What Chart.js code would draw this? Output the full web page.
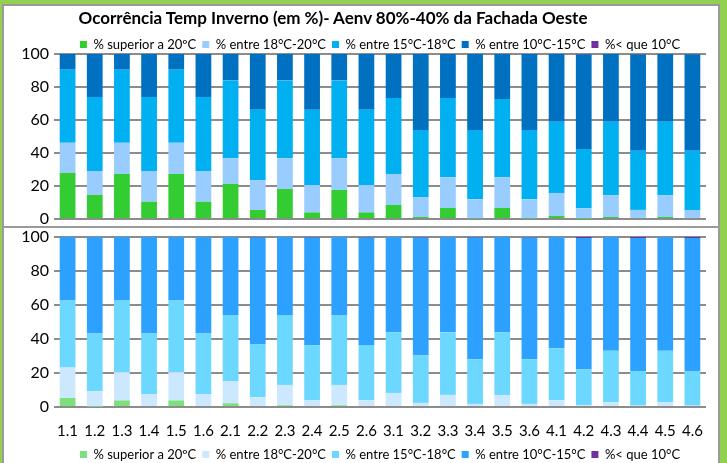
<!DOCTYPE html>
<html>
<head>
<meta charset="utf-8">
<script src="https://cdn.jsdelivr.net/npm/chart.js@4"></script>
<style>
  body { margin: 0; }
  #frame { position: relative; width: 727px; height: 463px; background: #92D050; overflow: hidden; font-family: Lato, sans-serif; }
  #inner { position: absolute; left: 2px; top: 4px; width: 718px; height: 470px; border: 2px solid #9a9a9a; box-sizing: border-box; background: #fff; }
  #sep { position: absolute; left: 2px; top: 226px; width: 716px; height: 2px; background: #9a9a9a; }
  #title { position: absolute; left: 0; top: 8px; width: 666px; text-align: center; font-weight: bold; font-size: 17px; line-height: 20px; color: #000; }
  .box { position: absolute; left: 4px; width: 712px; }
  #topBox { top: 6px; height: 220px; }
  #botBox { top: 229px; height: 240px; }
</style>
</head>
<body>
<div id="frame">
  <div id="inner"></div>
  <div id="sep"></div>
  <div class="box" id="topBox"><canvas id="topChart"></canvas></div>
  <div class="box" id="botBox"><canvas id="botChart"></canvas></div>
  <div id="title">Ocorrência Temp Inverno (em %)- Aenv 80%-40% da Fachada Oeste</div>
</div>
<script>
const categories = ['1.1','1.2','1.3','1.4','1.5','1.6','2.1','2.2','2.3','2.4','2.5','2.6',
  '3.1','3.2','3.3','3.4','3.5','3.6','4.1','4.2','4.3','4.4','4.5','4.6'];
const seriesNames = ['% superior a 20ºC', '% entre 18°C-20°C', '% entre 15°C-18°C', '% entre 10°C-15°C', '%< que 10°C'];
const yTicks = [0, 20, 40, 60, 80, 100];

// upper panel
const topAbove20 = [28, 14.6, 27.3, 10.5, 27.3, 10.5, 21.3, 5.5, 18.2, 4, 17.6, 4, 8.5, 1.2, 6.7, 0.4, 6.7, 0.4, 1.8, 0.2, 1.2, 0, 1.2, 0];
const top18to20 = [18.2, 14.5, 18.9, 18.6, 18.9, 18.6, 15.5, 18, 18.6, 16.6, 19.2, 16.6, 18.8, 12, 18.6, 11.5, 18.6, 11.5, 14, 6.3, 13.2, 5.5, 13.2, 5.5];
const top15to18 = [44.3, 44.8, 44.3, 44.8, 44.3, 44.8, 47.2, 42.7, 47.2, 45.6, 47.2, 45.6, 46, 40.8, 48, 42.1, 47.4, 42.1, 43.1, 36, 44.5, 35.8, 44.5, 35.8];
const top10to15 = [9.5, 26.1, 9.5, 26.1, 9.5, 26.1, 16, 33.8, 16, 33.8, 16, 33.8, 26.7, 46, 26.7, 46, 27.3, 46, 41.1, 57.2, 41.1, 58.4, 41.1, 58.4];
const topBelow10 = [0, 0, 0, 0, 0, 0, 0, 0, 0, 0, 0, 0, 0, 0, 0, 0, 0, 0, 0, 0.3, 0, 0.3, 0, 0.3];

// lower panel
const botAbove20 = [5.3, 0.4, 3.9, 0, 3.9, 0, 2.2, 0, 1, 0, 1, 0, 0, 0, 0, 0, 0, 0, 0, 0, 0, 0, 0, 0];
const bot18to20 = [17.9, 8.9, 16.6, 7.5, 16.6, 7.5, 13, 5.7, 12, 3.9, 12, 3.9, 8.3, 2.4, 7.1, 1.8, 7.1, 1.8, 3.9, 1.2, 2.8, 0.8, 2.8, 0.8];
const bot15to18 = [39.4, 34, 42.1, 35.8, 42.1, 35.8, 38.9, 31.1, 41.1, 32.5, 41.1, 32.5, 35.6, 28.1, 36.8, 26.3, 36.8, 26.3, 30.7, 21, 30.3, 20.3, 30.3, 20.3];
const bot10to15 = [37.4, 56.7, 37.4, 56.7, 37.4, 56.7, 45.9, 62.9, 45.9, 63.3, 45.9, 63.3, 56.1, 69.2, 56.1, 71.6, 56.1, 71.6, 65.4, 77.2, 66.9, 78.3, 66.9, 78.3];
const botBelow10 = [0, 0, 0, 0, 0, 0, 0, 0.3, 0, 0.3, 0, 0.3, 0, 0.3, 0, 0.3, 0, 0.3, 0, 0.6, 0, 0.6, 0, 0.6];

const topColors = ['#33CC33', '#99CCFF', '#00B0F0', '#0070C0', '#7030A0'];
const botColors = ['#7FDF7F', '#CCE8FF', '#6DD8FF', '#2DA1FF', '#7030A0'];

Chart.defaults.font.family = 'Lato, sans-serif';
Chart.defaults.color = '#000';
Chart.defaults.animation = false;

// legend box is taller than the excel one, trim it a bit
const trimLegend = {
  id: 'trimLegend',
  beforeLayout(chart) {
    const lg = chart.legend;
    if (lg && !lg._trimmed) {
      const fit = lg.fit;
      lg.fit = function () { fit.call(this); this.height -= 7; };
      lg._trimmed = true;
    }
  }
};

function makeSets(arrays, colors) {
  return arrays.map((d, i) => ({
    label: seriesNames[i],
    data: d,
    backgroundColor: colors[i],
    borderWidth: 0,
    categoryPercentage: 1,
    barPercentage: 0.58
  }));
}

function yScale() {
  return {
    stacked: true, min: 0, max: 100,
    afterBuildTicks: s => { s.ticks = yTicks.map(v => ({ value: v })); },
    afterFit: s => { s.width = 50; s.paddingTop = 0; s.paddingBottom = 0; },
    ticks: { font: { size: 16 }, padding: 5 },
    grid: { color: '#8c8c8c', lineWidth: 2, drawTicks: false },
    border: { display: false }
  };
}

function legendOpts(pos) {
  return {
    position: pos, fullSize: false,
    labels: { boxWidth: 7, boxHeight: 7, font: { size: 13 }, padding: 6 }
  };
}

new Chart(document.getElementById('topChart'), {
  type: 'bar',
  data: { labels: categories, datasets: makeSets([topAbove20, top18to20, top15to18, top10to15, topBelow10], topColors) },
  options: {
    responsive: true, maintainAspectRatio: false,
    layout: { padding: { left: 0, right: 10, top: 26, bottom: 7 } },
    plugins: {
      legend: legendOpts('top'),
      tooltip: { enabled: false }
    },
    scales: {
      x: { stacked: true, ticks: { display: false }, grid: { display: false, drawTicks: false }, border: { display: false },
        afterFit: s => { s.height = 0; s.paddingLeft = 0; s.paddingRight = 0; } },
      y: yScale()
    }
  },
  plugins: [trimLegend]
});

new Chart(document.getElementById('botChart'), {
  type: 'bar',
  data: { labels: categories, datasets: makeSets([botAbove20, bot18to20, bot15to18, bot10to15, botBelow10], botColors) },
  options: {
    responsive: true, maintainAspectRatio: false,
    layout: { padding: { left: 0, right: 10, top: 8, bottom: 5 } },
    plugins: {
      legend: legendOpts('bottom'),
      tooltip: { enabled: false }
    },
    scales: {
      x: { stacked: true, ticks: { font: { size: 15 }, padding: 15, maxRotation: 0, autoSkip: false },
        grid: { display: false, drawTicks: false }, border: { display: false },
        afterFit: s => { s.height = 35; s.paddingLeft = 0; s.paddingRight = 0; } },
      y: yScale()
    }
  },
  plugins: [trimLegend]
});
</script>
</body>
</html>
